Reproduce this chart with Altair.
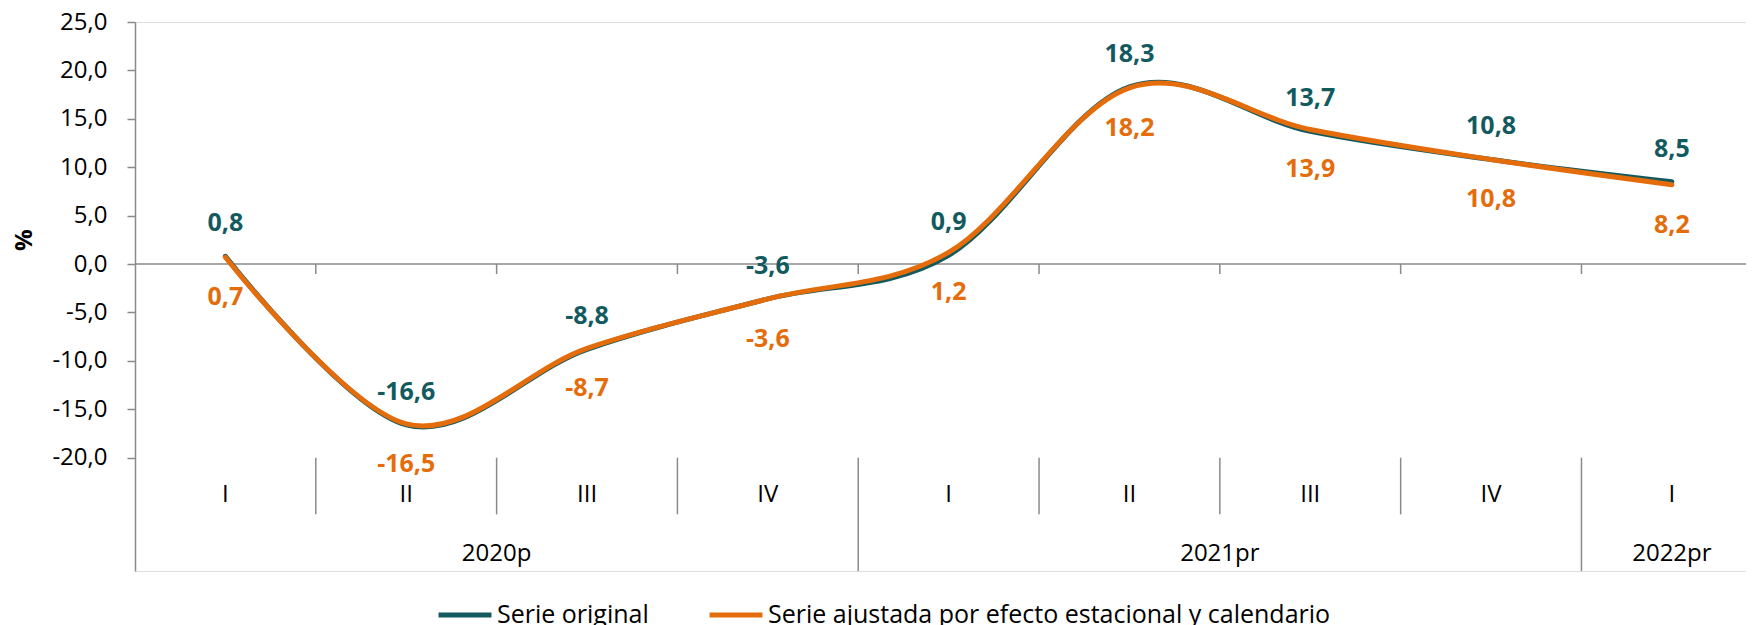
import altair as alt
import pandas as pd

# ---- data ----
trimestres = ["I", "II", "III", "IV", "I", "II", "III", "IV", "I"]
anios = ["2020p", "2021pr", "2022pr"]
trimestres_por_anio = [4, 4, 1]
serie_original = [0.8, -16.6, -8.8, -3.6, 0.9, 18.3, 13.7, 10.8, 8.5]
serie_ajustada = [0.7, -16.5, -8.7, -3.6, 1.2, 18.2, 13.9, 10.8, 8.2]
y_ticks = [-20, -15, -10, -5, 0, 5, 10, 15, 20, 25]

NOMBRE_ORIG = "Serie original"
NOMBRE_AJUS = "Serie ajustada por efecto estacional y calendario"

# ---- style / layout ----
TEAL = "#135a5f"
ORANGE = "#e46c0a"
GRAY = "#8a8a8a"
FONT = "Open Sans"

X_MAX = 8.91          # right edge of the plot (categories are 1 unit wide)
Y_MIN = -31.7         # bottom of the plot area (below the -20 line: category labels)
Y_MAX = 25
Y_LOW = -20
Q_LABEL_Y = -23.9
YEAR_LABEL_Y = -29.9
Q_SEP_BOTTOM = -25.85
ZERO_TICK = -1.03


def fmt(v):
    return f"{v:.1f}".replace(".", ",")


rows = []
for i, (o, a) in enumerate(zip(serie_original, serie_ajustada)):
    rows.append({"pos": i + 0.5, "serie": NOMBRE_ORIG, "valor": o, "etiqueta": fmt(o)})
    rows.append({"pos": i + 0.5, "serie": NOMBRE_AJUS, "valor": a, "etiqueta": fmt(a)})
df = pd.DataFrame(rows)

df_q = pd.DataFrame({"pos": [i + 0.5 for i in range(len(trimestres))],
                     "txt": trimestres, "y": Q_LABEL_Y})

year_pos, start = [], 0
year_ends = []
for n in trimestres_por_anio:
    year_pos.append(start + n / 2)
    start += n
    year_ends.append(start)
df_y = pd.DataFrame({"pos": year_pos, "txt": anios, "y": YEAR_LABEL_Y})

seps = []
for b in range(1, len(trimestres)):
    bottom = Y_MIN if b in year_ends else Q_SEP_BOTTOM
    seps.append({"pos": b, "y1": Y_LOW, "y2": bottom, "t1": 0, "t2": ZERO_TICK})
df_sep = pd.DataFrame(seps)
df_zero = pd.DataFrame({"x1": [0], "x2": [X_MAX], "y": [0]})

xscale = alt.Scale(domain=[0, X_MAX], nice=False, zero=False)
yscale = alt.Scale(domain=[Y_MIN, Y_MAX], nice=False, zero=False)
yaxis = alt.Axis(
    values=y_ticks,
    labelExpr="replace(replace(format(datum.value, '.1f'), '.', ','), '\u2212', '-')",
    grid=False, domainColor=GRAY, domainWidth=1.5, tickColor=GRAY, tickWidth=1.5,
    tickSize=8, labelPadding=20, labelFontSize=24, labelFont=FONT, labelColor="#000000",
    title="%", titleFontSize=24, titleFontWeight="bold", titleFont=FONT, titleColor="#000000",
    titleX=-111, titleY=217.6, titleAlign="center", titleBaseline="middle",
)


def Y(field):
    return alt.Y(field, scale=yscale, axis=yaxis)


def X(field):
    return alt.X(field, scale=xscale, axis=None)


zero_line = alt.Chart(df_zero).mark_rule(color=GRAY, strokeWidth=1.5).encode(
    x=X("x1:Q"), x2="x2:Q", y=Y("y:Q"))
zero_ticks = alt.Chart(df_sep).mark_rule(color=GRAY, strokeWidth=1.5).encode(
    x=X("pos:Q"), y=Y("t1:Q"), y2="t2:Q")
separators = alt.Chart(df_sep).mark_rule(color=GRAY, strokeWidth=1.5).encode(
    x=X("pos:Q"), y=Y("y1:Q"), y2="y2:Q")
q_labels = alt.Chart(df_q).mark_text(font=FONT, fontSize=24, color="#000000").encode(
    x=X("pos:Q"), y=Y("y:Q"), text="txt:N")
y_labels = alt.Chart(df_y).mark_text(font=FONT, fontSize=24, color="#000000").encode(
    x=X("pos:Q"), y=Y("y:Q"), text="txt:N")

color = alt.Color(
    "serie:N",
    scale=alt.Scale(domain=[NOMBRE_ORIG, NOMBRE_AJUS], range=[TEAL, ORANGE]),
    legend=alt.Legend(
        orient="none", legendX=301, legendY=564, direction="horizontal", title=None,
        symbolType="stroke", symbolStrokeWidth=5, symbolSize=2800,
        labelFontSize=25, labelFont=FONT, labelColor="#000000", labelLimit=1000,
        labelOffset=3, columnPadding=50,
    ),
)

line_orig = alt.Chart(df[df.serie == NOMBRE_ORIG]).mark_line(
    interpolate="cardinal", strokeWidth=5, strokeCap="round").encode(
    x=X("pos:Q"), y=Y("valor:Q"), color=color)
line_ajus = alt.Chart(df[df.serie == NOMBRE_AJUS]).mark_line(
    interpolate="cardinal", strokeWidth=5, strokeCap="round").encode(
    x=X("pos:Q"), y=Y("valor:Q"), color=color)

lab_orig = alt.Chart(df[df.serie == NOMBRE_ORIG]).mark_text(
    font=FONT, fontSize=25, fontWeight="bold", color=TEAL, dy=-33, baseline="middle").encode(
    x=X("pos:Q"), y=Y("valor:Q"), text="etiqueta:N")
lab_ajus = alt.Chart(df[df.serie == NOMBRE_AJUS]).mark_text(
    font=FONT, fontSize=25, fontWeight="bold", color=ORANGE, dy=40, baseline="middle").encode(
    x=X("pos:Q"), y=Y("valor:Q"), text="etiqueta:N")

chart = alt.layer(
    zero_line, zero_ticks, separators, q_labels, y_labels,
    line_orig, line_ajus, lab_orig, lab_ajus,
).properties(
    width=1611, height=549,
    padding={"left": 127, "top": 14, "right": 0, "bottom": 62},
    autosize=alt.AutoSizeParams(type="none"),
).configure_view(stroke=None).configure(background="white")

chart.save("out.html", embed_options={"renderer": "svg", "actions": False})
